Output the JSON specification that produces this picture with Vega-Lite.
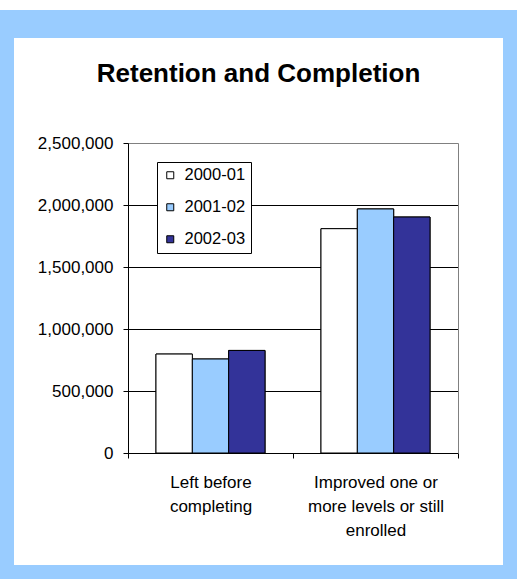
{
  "$schema": "https://vega.github.io/schema/vega-lite/v6.json",
  "width": 517,
  "height": 555,
  "autosize": {"type": "none"},
  "padding": {"left": 0, "top": 24, "right": 0, "bottom": 0},
  "background": "#FFFFFF",
  "title": {
    "text": "Retention and Completion",
    "font": "Liberation Sans",
    "fontSize": 26,
    "fontWeight": "bold",
    "color": "#000000",
    "anchor": "middle",
    "frame": "group",
    "baseline": "alphabetic",
    "offset": -84
  },
  "data": {
    "values": [
      {"category": "Left before completing", "year": "2000-01", "count": 798000},
      {"category": "Left before completing", "year": "2001-02", "count": 758000},
      {"category": "Left before completing", "year": "2002-03", "count": 827000},
      {"category": "Improved one or more levels or still enrolled", "year": "2000-01", "count": 1809000},
      {"category": "Improved one or more levels or still enrolled", "year": "2001-02", "count": 1968000},
      {"category": "Improved one or more levels or still enrolled", "year": "2002-03", "count": 1903000}
    ]
  },
  "config": {
    "font": "Liberation Sans",
    "view": {"fill": "#FFFFFF", "stroke": "#99CCFF", "strokeWidth": 28},
    "axis": {"labelFont": "Liberation Sans", "labelColor": "#000000"}
  },
  "encoding": {
    "x": {
      "field": "category",
      "type": "nominal",
      "sort": ["Left before completing", "Improved one or more levels or still enrolled"],
      "scale": {"range": [128, 458], "paddingInner": 0, "paddingOuter": 0},
      "axis": {
        "orient": "bottom",
        "offset": -126,
        "title": null,
        "tickBand": "extent",
        "tickSize": 5,
        "tickColor": "#000000",
        "domainColor": "#000000",
        "labelAngle": 0,
        "labelFontSize": 17,
        "labelLineHeight": 24,
        "labelPadding": 16,
        "labelLimit": 400,
        "labelExpr": "datum.value == 'Left before completing' ? ['Left before', 'completing'] : (datum.value == 'Improved one or more levels or still enrolled' ? ['Improved one or', 'more levels or still', 'enrolled'] : '')",
        "grid": false
      }
    },
    "xOffset": {
      "field": "year",
      "type": "nominal",
      "sort": ["2000-01", "2001-02", "2002-03"],
      "scale": {"paddingInner": 0, "paddingOuter": 0.77}
    },
    "color": {
      "field": "year",
      "type": "nominal",
      "scale": {"domain": ["2000-01", "2001-02", "2002-03"], "range": ["#FFFFFF", "#99CCFF", "#333399"]},
      "legend": {
        "orient": "none",
        "legendX": 157,
        "legendY": 138,
        "title": null,
        "symbolType": "square",
        "symbolSize": 49,
        "symbolStrokeColor": "#000000",
        "symbolStrokeWidth": 1,
        "symbolOpacity": 1,
        "labelFont": "Liberation Sans",
        "labelFontSize": 16.5,
        "labelColor": "#000000",
        "labelOffset": 6,
        "padding": 5,
        "rowPadding": 15,
        "strokeColor": "#000000",
        "fillColor": "#FFFFFF"
      }
    }
  },
  "layer": [
    {
      "mark": {"type": "bar", "stroke": "#000000", "strokeWidth": 1},
      "encoding": {
        "y": {
          "field": "count",
          "type": "quantitative",
          "scale": {"domain": [0, 2500000], "range": [429, 119], "nice": false},
          "axis": {
            "orient": "left",
            "offset": -128,
            "title": null,
            "values": [0, 500000, 1000000, 1500000, 2000000, 2500000],
            "format": ",d",
            "labelFontSize": 17,
            "labelPadding": 10,
            "tickSize": 5,
            "tickColor": "#000000",
            "domainColor": "#000000",
            "grid": true,
            "gridColor": {"condition": {"test": "datum.value >= 2500000", "value": "#808080"}, "value": "#000000"},
            "gridOpacity": 1
          }
        }
      }
    },
    {
      "mark": {"type": "bar", "stroke": "#000000", "strokeWidth": 1},
      "encoding": {
        "y": {
          "field": "count",
          "type": "quantitative",
          "axis": {
            "orient": "right",
            "offset": -59,
            "title": null,
            "ticks": false,
            "labels": false,
            "grid": false,
            "domainColor": "#808080"
          }
        }
      }
    }
  ],
  "resolve": {"axis": {"y": "independent"}}
}
